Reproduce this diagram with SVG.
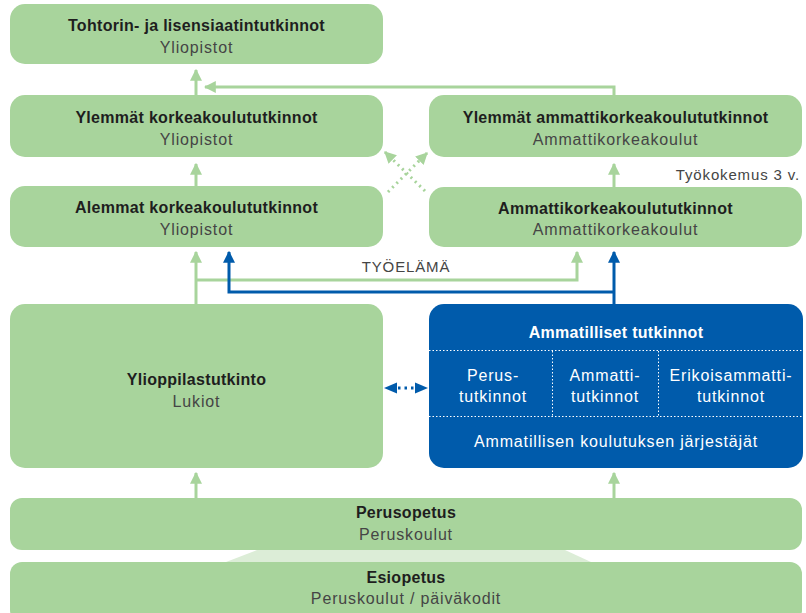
<svg xmlns="http://www.w3.org/2000/svg" width="806" height="613" viewBox="0 0 806 613">
<defs>
<style>
.g{fill:#a8d49c}
.b{fill:#005bab}
.t{font-family:"Liberation Sans",Arial,sans-serif;font-size:16px;font-weight:bold;fill:#1e1e1e;text-anchor:middle;letter-spacing:0.3px}
.s{font-family:"Liberation Sans",Arial,sans-serif;font-size:16px;fill:#454545;text-anchor:middle;letter-spacing:0.85px}
.w{font-family:"Liberation Sans",Arial,sans-serif;font-size:16px;fill:#ffffff;text-anchor:middle;letter-spacing:0.85px}
.wt{font-family:"Liberation Sans",Arial,sans-serif;font-size:16px;font-weight:bold;fill:#ffffff;text-anchor:middle;letter-spacing:0.3px}
.lab{font-family:"Liberation Sans",Arial,sans-serif;font-size:15px;fill:#454545;letter-spacing:0.85px}
.gl{stroke:#a8d49c;stroke-width:3;fill:none}
.bl{stroke:#005bab;stroke-width:3;fill:none}
.dot{stroke:#a8d49c;stroke-width:3;fill:none;stroke-dasharray:2 4}
.wd{stroke:#ffffff;stroke-width:1;fill:none;stroke-dasharray:1.5 2}
</style>
<marker id="ag" viewBox="0 0 10 10" refX="9" refY="5" markerWidth="4" markerHeight="4.5" orient="auto" markerUnits="strokeWidth">
<path d="M0,0 L10,5 L0,10 z" fill="#a8d49c"/>
</marker>
<marker id="ab" viewBox="0 0 10 10" refX="9" refY="5" markerWidth="4" markerHeight="4.5" orient="auto" markerUnits="strokeWidth">
<path d="M0,0 L10,5 L0,10 z" fill="#005bab"/>
</marker>
</defs>
<rect width="806" height="613" fill="#ffffff"/>

<polygon points="257,550 565,550 591,562 226,562" fill="#dcedd7"/>

<g id="connectors">
<path class="gl" d="M196,95 V70" marker-end="url(#ag)"/>
<path class="gl" d="M614,95 V87 H205" marker-end="url(#ag)"/>
<path class="gl" d="M614,187 V164" marker-end="url(#ag)"/>
<path class="gl" d="M196,186 V164" marker-end="url(#ag)"/>
<path class="dot" d="M388,192 L427,153" marker-end="url(#ag)"/>
<path class="dot" d="M425,191 L385,152" marker-end="url(#ag)"/>
<path class="gl" d="M196,304 V252" marker-end="url(#ag)"/>
<path class="gl" d="M196,280 H577 V252" marker-end="url(#ag)"/>
<path class="bl" d="M614,304 V252" marker-end="url(#ab)"/>
<path class="bl" d="M614,292 H229 V252" marker-end="url(#ab)"/>
<path class="bl" d="M398,388 H414" stroke-dasharray="2.5 4"/>
<path d="M384,388 L397,382.5 L397,393.5 z" fill="#005bab"/>
<path d="M428,388 L415,382.5 L415,393.5 z" fill="#005bab"/>
<path class="gl" d="M196,498 V473" marker-end="url(#ag)"/>
<path class="gl" d="M614,498 V473" marker-end="url(#ag)"/>
</g>

<g id="tohtorin">
<rect class="g" x="10" y="4" width="373" height="60" rx="15"/>
<text class="t" x="196.5" y="31">Tohtorin- ja lisensiaatintutkinnot</text>
<text class="s" x="196.5" y="53">Yliopistot</text>
</g>
<g id="ylemmat-kk">
<rect class="g" x="10" y="95" width="373" height="62" rx="15"/>
<text class="t" x="196.5" y="123">Ylemmät korkeakoulututkinnot</text>
<text class="s" x="196.5" y="145">Yliopistot</text>
</g>
<g id="ylemmat-amk">
<rect class="g" x="429" y="95" width="373" height="62" rx="15"/>
<text class="t" x="615.5" y="123">Ylemmät ammattikorkeakoulututkinnot</text>
<text class="s" x="615.5" y="145">Ammattikorkeakoulut</text>
</g>
<text class="lab" x="800" y="180" text-anchor="end">Työkokemus 3 v.</text>
<g id="alemmat-kk">
<rect class="g" x="10" y="186" width="373" height="61" rx="15"/>
<text class="t" x="196.5" y="213">Alemmat korkeakoulututkinnot</text>
<text class="s" x="196.5" y="235">Yliopistot</text>
</g>
<g id="amk">
<rect class="g" x="429" y="187" width="373" height="60" rx="15"/>
<text class="t" x="615.5" y="214">Ammattikorkeakoulututkinnot</text>
<text class="s" x="615.5" y="235">Ammattikorkeakoulut</text>
</g>
<text class="lab" x="406" y="272" text-anchor="middle">TYÖELÄMÄ</text>
<g id="ylioppilas">
<rect class="g" x="10" y="304" width="373" height="164" rx="15"/>
<text class="t" x="196.5" y="385">Ylioppilastutkinto</text>
<text class="s" x="196.5" y="407">Lukiot</text>
</g>
<g id="ammatilliset">
<rect class="b" x="429" y="304" width="374" height="164" rx="15"/>
<text class="wt" x="616" y="338">Ammatilliset tutkinnot</text>
<path class="wd" d="M429,350.5 H803 M429,416.5 H803 M552.5,351 V416 M658.5,351 V416"/>
<text class="w" x="493" y="381">Perus-</text>
<text class="w" x="493" y="402">tutkinnot</text>
<text class="w" x="605" y="381">Ammatti-</text>
<text class="w" x="605" y="402">tutkinnot</text>
<text class="w" x="731" y="381">Erikoisammatti-</text>
<text class="w" x="731" y="402">tutkinnot</text>
<text class="w" x="616" y="447">Ammatillisen koulutuksen järjestäjät</text>
</g>
<g id="perusopetus">
<rect class="g" x="10" y="498" width="792" height="52" rx="12"/>
<text class="t" x="406" y="518">Perusopetus</text>
<text class="s" x="406" y="540">Peruskoulut</text>
</g>
<g id="esiopetus">
<rect class="g" x="10" y="562" width="792" height="60" rx="12"/>
<text class="t" x="406" y="583">Esiopetus</text>
<text class="s" x="406" y="604">Peruskoulut / päiväkodit</text>
</g>
</svg>
